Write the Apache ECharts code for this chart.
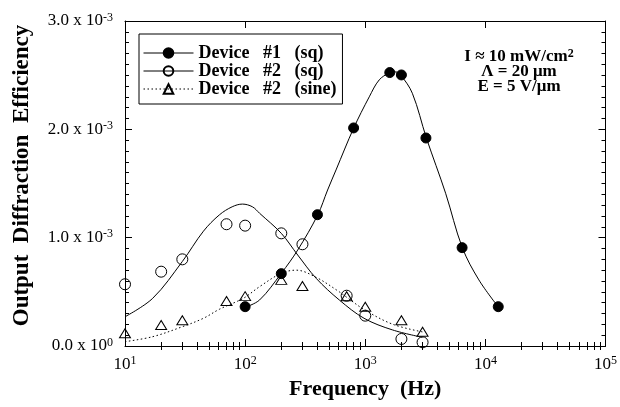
<!DOCTYPE html>
<html>
<head>
<meta charset="utf-8">
<script src="https://cdn.jsdelivr.net/npm/echarts@6/dist/echarts.min.js"></script>
<style>
  html, body { margin: 0; padding: 0; background: #fff; }
  #chart { width: 620px; height: 407px; }
</style>
</head>
<body>
<div id="chart"></div>
<script>
// values are in units of 1e-3 (diffraction efficiency)
const freqDev1 = [100, 200, 400, 800, 1600, 2000, 3200, 6400, 12800];
const effDev1 = [0.363, 0.668, 1.212, 2.013, 2.524, 2.502, 1.92, 0.908, 0.363];

const freqDev2 = [10, 20, 30, 70, 100, 200, 300, 700, 1000, 2000, 3000];
const effDev2Sq = [0.57, 0.686, 0.80, 1.124, 1.111, 1.04, 0.939, 0.464, 0.28, 0.065, 0.034];
const effDev2Sine = [0.117, 0.194, 0.237, 0.415, 0.46, 0.61, 0.554, 0.459, 0.363, 0.237, 0.132];

// fitted curves
const fitDev1Freq = [100, 132, 200, 274, 402, 486, 571, 800, 1080, 1306, 1585, 1800, 1977, 2466, 3228, 4667, 6427, 8830, 12760];
const fitDev1Eff = [0.357, 0.425, 0.671, 0.886, 1.21, 1.44, 1.625, 2.01, 2.30, 2.456, 2.52, 2.53, 2.50, 2.333, 1.92, 1.41, 0.908, 0.61, 0.363];

const fitSqFreq = [10, 17, 30, 45, 61, 78, 95, 115, 132, 200, 274, 390, 608, 977, 1690, 3000];
const fitSqEff = [0.27, 0.44, 0.78, 1.06, 1.21, 1.285, 1.31, 1.285, 1.225, 1.04, 0.84, 0.625, 0.425, 0.256, 0.148, 0.08];

const fitSineFreq = [10, 17, 30, 45, 61, 85, 100, 132, 200, 266, 390, 608, 700, 1000, 1700, 3000];
const fitSineEff = [0.04, 0.086, 0.178, 0.256, 0.339, 0.41, 0.45, 0.548, 0.671, 0.70, 0.634, 0.50, 0.45, 0.33, 0.20, 0.13];

const yTicks = [0, 1, 2, 3];
const xMinorTicks = [20, 30, 40, 50, 60, 70, 80, 90, 200, 300, 400, 500, 600, 700, 800, 900,
  2000, 3000, 4000, 5000, 6000, 7000, 8000, 9000, 20000, 30000, 40000, 50000, 60000, 70000, 80000, 90000];

const seriesNames = ['Device   #1   (sq)', 'Device   #2   (sq)', 'Device   #2   (sine)'];

const FONT = '"Liberation Serif", "Times New Roman", serif';
const BLACK = '#000';

const zip = (xs, ys) => xs.map((x, i) => [x, ys[i]]);

const chart = echarts.init(document.getElementById('chart'), null, { renderer: 'canvas' });

// shared log x axis settings
const logAxis = (extra) => Object.assign({
  type: 'log',
  logBase: 10,
  min: 10,
  max: 100000,
  splitLine: { show: false },
  axisLine: { show: false },
  axisLabel: { show: false },
  axisTick: { show: false }
}, extra);

// "a x 10^b" style labels
const tickRich = {
  m: { fontFamily: FONT, fontSize: 17, color: BLACK, lineHeight: 19 },
  e: { fontFamily: FONT, fontSize: 12, color: BLACK, lineHeight: 10, verticalAlign: 'top' }
};

const option = {
  animation: false,
  backgroundColor: '#fff',
  grid: { left: 125, right: 13, top: 21, bottom: 61 },
  legend: {
    left: 139,
    top: 34,
    orient: 'vertical',
    padding: [10, 6, 6, 4],
    itemWidth: 50,
    itemHeight: 12,
    itemGap: 0,
    borderColor: BLACK,
    borderWidth: 1,
    textStyle: { fontFamily: FONT, fontSize: 18, fontWeight: 'bold', color: BLACK, lineHeight: 15.5 },
    data: [
      { name: seriesNames[0], lineStyle: { color: BLACK, width: 1, type: 'solid', opacity: 1 } },
      { name: seriesNames[1], lineStyle: { color: BLACK, width: 1, type: 'solid', opacity: 1 } },
      { name: seriesNames[2], lineStyle: { color: BLACK, width: 1, type: [1.5, 2.5], opacity: 1 } }
    ]
  },
  xAxis: [
    logAxis({
      position: 'bottom',
      name: 'Frequency  (Hz)',
      nameLocation: 'middle',
      nameGap: 32,
      nameTextStyle: { fontFamily: FONT, fontSize: 22, fontWeight: 'bold', color: BLACK },
      axisLine: { show: true, onZero: false, lineStyle: { color: BLACK, width: 1 } },
      axisTick: { show: true, inside: true, length: 7, lineStyle: { color: BLACK } },
      axisLabel: {
        show: true,
        margin: 9,
        formatter: (v) => '{m|10}{e|' + Math.round(Math.log10(v)) + '}',
        rich: tickRich
      }
    }),
    logAxis({
      position: 'bottom',
      axisTick: { show: true, inside: true, length: 4, customValues: xMinorTicks, lineStyle: { color: BLACK } }
    }),
    logAxis({
      position: 'top',
      axisLine: { show: true, onZero: false, lineStyle: { color: BLACK, width: 1 } },
      axisTick: { show: true, inside: true, length: 7, lineStyle: { color: BLACK } }
    }),
    logAxis({
      position: 'top',
      axisTick: { show: true, inside: true, length: 4, customValues: xMinorTicks, lineStyle: { color: BLACK } }
    })
  ],
  yAxis: [
    {
      type: 'value',
      position: 'left',
      min: 0,
      max: 3,
      interval: 1,
      name: 'Output  Diffraction  Efficiency',
      nameLocation: 'middle',
      nameGap: 91,
      nameTextStyle: { fontFamily: FONT, fontSize: 23, fontWeight: 'bold', color: BLACK, padding: [0, 0, 0, 16] },
      splitLine: { show: false },
      axisLine: { show: true, onZero: false, lineStyle: { color: BLACK, width: 1 } },
      axisTick: { show: true, inside: true, length: 7, lineStyle: { color: BLACK } },
      minorTick: { show: true, splitNumber: 10, length: 4, lineStyle: { color: BLACK } },
      axisLabel: {
        margin: 12,
        customValues: yTicks,
        formatter: (v) => '{m|' + v.toFixed(1) + ' x 10}{e|' + (v === 0 ? '0' : '-3') + '}',
        rich: tickRich
      }
    },
    {
      type: 'value',
      position: 'right',
      min: 0,
      max: 3,
      interval: 1,
      splitLine: { show: false },
      axisLabel: { show: false },
      axisLine: { show: true, onZero: false, lineStyle: { color: BLACK, width: 1 } },
      axisTick: { show: true, inside: true, length: 7, lineStyle: { color: BLACK } },
      minorTick: { show: true, splitNumber: 10, length: 4, lineStyle: { color: BLACK } }
    }
  ],
  graphic: [
    {
      type: 'text', x: 519, y: 57,
      style: {
        text: '{b|I ≈ 10 mW/cm}{s|2}', align: 'center', verticalAlign: 'middle',
        rich: {
          b: { fontFamily: FONT, fontSize: 17, fontWeight: 'bold', fill: BLACK, lineHeight: 18 },
          s: { fontFamily: FONT, fontSize: 12, fontWeight: 'bold', fill: BLACK, lineHeight: 10, verticalAlign: 'top' }
        }
      }
    },
    {
      type: 'text', x: 519, y: 72,
      style: { text: 'Λ = 20 μm', align: 'center', verticalAlign: 'middle',
        font: 'bold 17px ' + FONT, fill: BLACK }
    },
    {
      type: 'text', x: 519, y: 87,
      style: { text: 'E = 5 V/μm', align: 'center', verticalAlign: 'middle',
        font: 'bold 17px ' + FONT, fill: BLACK }
    }
  ],
  series: [
    // fitted curves
    {
      name: 'fit1', type: 'line', xAxisIndex: 0, yAxisIndex: 0,
      data: zip(fitDev1Freq, fitDev1Eff), smooth: 0.35, showSymbol: false, silent: true,
      lineStyle: { color: BLACK, width: 1 }, z: 2
    },
    {
      name: 'fit2', type: 'line', xAxisIndex: 0, yAxisIndex: 0,
      data: zip(fitSqFreq, fitSqEff), smooth: 0.35, showSymbol: false, silent: true,
      lineStyle: { color: BLACK, width: 1 }, z: 2
    },
    {
      name: 'fit3', type: 'line', xAxisIndex: 0, yAxisIndex: 0,
      data: zip(fitSineFreq, fitSineEff), smooth: 0.35, showSymbol: false, silent: true,
      lineStyle: { color: BLACK, width: 1, type: [1.5, 2.5] }, z: 2
    },
    // measured points (line hidden, so the legend can still show a line sample)
    {
      name: seriesNames[0], type: 'line', xAxisIndex: 0, yAxisIndex: 0,
      data: zip(freqDev1, effDev1), symbol: 'circle', symbolSize: 10, showAllSymbol: true,
      itemStyle: { color: BLACK, borderColor: BLACK, borderWidth: 1 },
      lineStyle: { opacity: 0 }, z: 4
    },
    {
      name: seriesNames[1], type: 'line', xAxisIndex: 0, yAxisIndex: 0,
      data: zip(freqDev2, effDev2Sq), symbol: 'circle', symbolSize: 11, showAllSymbol: true,
      itemStyle: { color: 'rgba(255,255,255,0)', borderColor: BLACK, borderWidth: 1 },
      lineStyle: { opacity: 0 }, z: 4
    },
    {
      name: seriesNames[2], type: 'line', xAxisIndex: 0, yAxisIndex: 0,
      data: zip(freqDev2, effDev2Sine), symbol: 'triangle', symbolSize: [11, 9], showAllSymbol: true,
      itemStyle: { color: 'rgba(255,255,255,0)', borderColor: BLACK, borderWidth: 1 },
      lineStyle: { opacity: 0 }, z: 4
    }
  ]
};

chart.setOption(option);
</script>
</body>
</html>
